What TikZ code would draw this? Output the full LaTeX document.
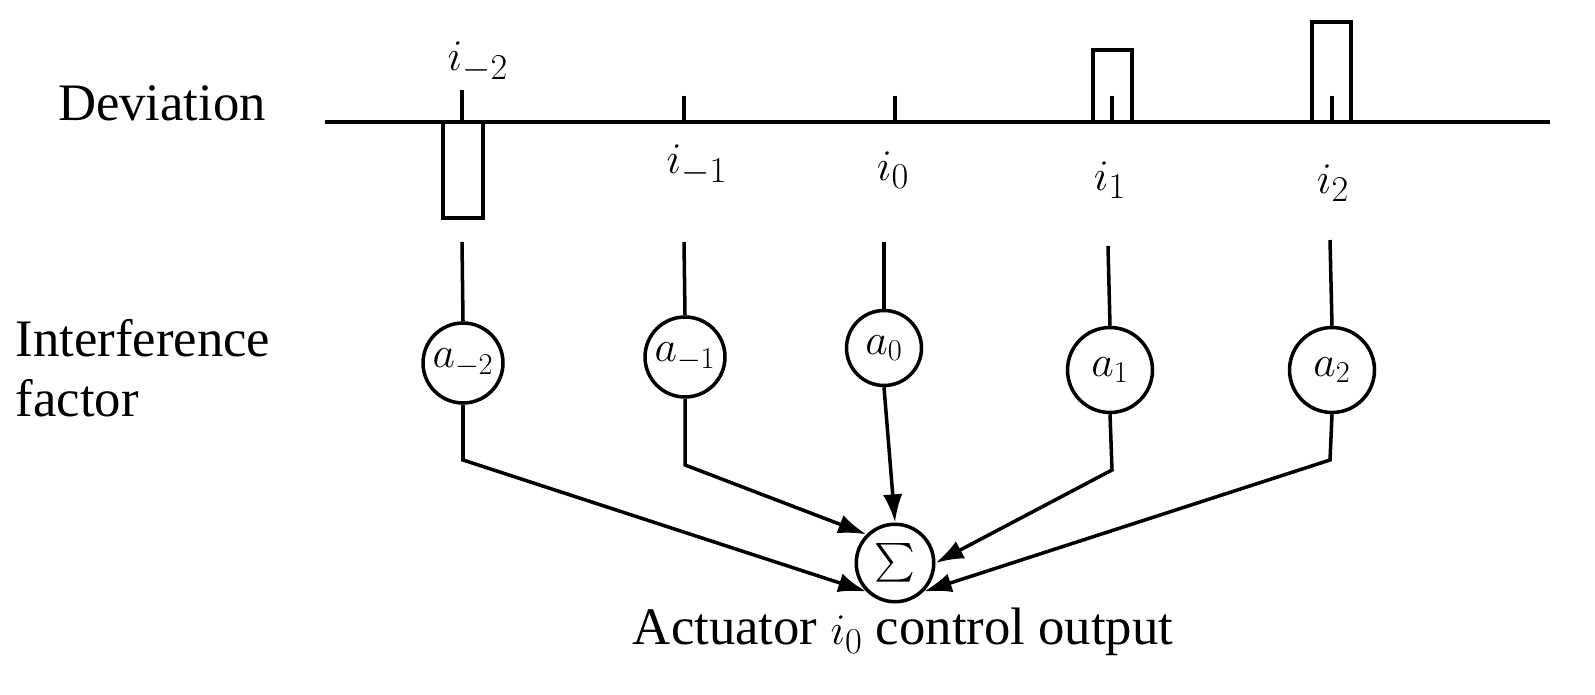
\documentclass[tikz,border=0pt]{standalone}
\usepackage{fontspec}
\setmainfont{Liberation Serif}
\usetikzlibrary{arrows.meta}
\begin{document}
\begin{tikzpicture}[x=0.02cm,y=-0.02cm,line width=2pt,
 txt/.style={font=\fontsize{30}{34}\selectfont,inner sep=0},
 lab/.style={font=\fontsize{32}{34}\selectfont,inner sep=0},
 fac/.style={circle,draw,minimum size=1.6cm,inner sep=0,font=\fontsize{24}{26}\selectfont},
 arr/.style={-{Latex[length=16pt,width=11pt]}}]
\node[txt] (dev) at (162,103) {Deviation};
\node[txt,align=left,anchor=west] (inf) at (14,368) {Interference\\factor};
\coordinate (L) at (325,122); \coordinate (R) at (1550,122);
\draw (L) -- (R);
\draw (443,122) rectangle (483,218);
\draw (1093,122) rectangle (1132,50);
\draw (1312,122) rectangle (1351,22);
\draw (462,90) -- (462,122);
\foreach \x in {684,895,1112,1332} \draw (\x,96) -- (\x,122);
\node[lab] at (478,62) {$i_{-2}$};
\node[lab] at (697,165) {$i_{-1}$};
\node[lab] at (893,170) {$i_{0}$};
\node[lab] at (1110,180) {$i_{1}$};
\node[lab] at (1333,183) {$i_{2}$};
\node[fac] (am2) at (463,363) {$a_{-2}$};
\node[fac] (am1) at (685,357) {$a_{-1}$};
\node[fac,minimum size=1.5cm] (a0) at (884,348) {$a_{0}$};
\node[fac,minimum size=1.7cm] (a1) at (1110,370) {$a_{1}$};
\node[fac,minimum size=1.7cm] (a2) at (1332,370) {$a_{2}$};
\draw (462,242) -- (am2.north);
\draw (684,242) -- (am1.north);
\draw (884,242) -- (a0.north);
\draw (1108,246) -- (a1.north);
\draw (1330,240) -- (a2.north);
\node[circle,draw,minimum size=1.55cm,inner sep=0] (s) at (895,563) {\scalebox{2.2}{$\sum$}};
\coordinate (c1) at (463,460); \coordinate (c2) at (685,465);
\coordinate (c4) at (1112,470); \coordinate (c5) at (1330,460);
\draw[arr] (am2.south) -- (c1) -- (s.south west);
\draw[arr] (am1.south) -- (c2) -- (s.north west);
\draw[arr] (a0.south) -- (s.north);
\draw[arr] (a1.south) -- (c4) -- (s.east);
\draw[arr] (a2.south) -- (c5) -- (s.south east);
\node[txt] (out) at (903,632) {Actuator $i_{0}$ control output};
\pgfresetboundingbox
\useasboundingbox (0,0) rectangle (1595,695);
\end{tikzpicture}
\end{document}
